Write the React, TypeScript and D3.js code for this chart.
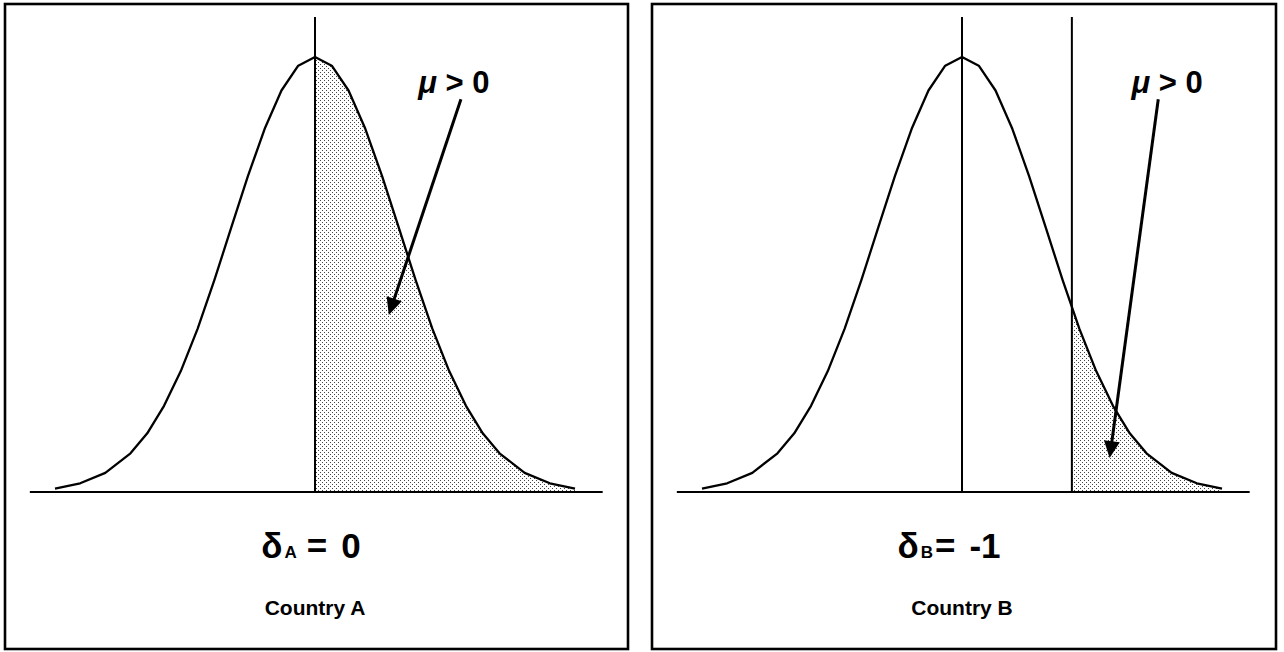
import { useRef, useEffect } from "react";
import * as d3 from "d3";

// standard normal curve (x in sigma units, height relative to peak)
const Z_POINTS = [
  -3.1, -2.8, -2.5, -2.2, -2.0, -1.8, -1.6, -1.4, -1.2, -1.0, -0.8, -0.6, -0.4, -0.2, 0,
  0.2, 0.4, 0.6, 0.8, 1.0, 1.2, 1.4, 1.6, 1.8, 2.0, 2.2, 2.5, 2.8, 3.1,
];
const DENSITY = [
  0.008, 0.02, 0.044, 0.089, 0.135, 0.198, 0.278, 0.375, 0.487, 0.607, 0.726, 0.835, 0.923, 0.98, 1,
  0.98, 0.923, 0.835, 0.726, 0.607, 0.487, 0.375, 0.278, 0.198, 0.135, 0.089, 0.044, 0.02, 0.008,
];

const COUNTRIES = ["Country A", "Country B"];
const DELTA_SUBS = ["A", "B"];
const DELTA_VALUES = ["0", "-1"];
const CUTOFFS = [0, 1.31];
const VERTICAL_LINES = [[0], [0, 1.31]];
// arrow (start -> tip) and "mu > 0" label, in the panel's own units
const ARROW_FROM = [[1.74, 0.903], [2.34, 0.903]];
const ARROW_TO = [[0.88, 0.407], [1.76, 0.078]];
const MU_LABEL_AT = [[1.23, 0.917], [2.02, 0.917]];
// left edge of the delta label, in sigma units
const DELTA_LABEL_AT = [-0.64, -0.77];

const W = 1284;
const H = 652;
const FONT = "'Liberation Sans', Arial, Helvetica, sans-serif";

export default function App() {
  const svgRef = useRef<SVGSVGElement | null>(null);

  useEffect(() => {
    const svg = d3.select(svgRef.current);
    svg.selectAll("*").remove();

    const defs = svg.append("defs");
    const pat = defs
      .append("pattern")
      .attr("id", "stipple")
      .attr("patternUnits", "userSpaceOnUse")
      .attr("width", 4)
      .attr("height", 4);
    pat.append("rect").attr("width", 4).attr("height", 4).attr("fill", "#fff");
    pat.append("rect").attr("x", 0).attr("y", 0).attr("width", 1).attr("height", 1).attr("fill", "#444");
    pat.append("rect").attr("x", 2).attr("y", 2).attr("width", 1).attr("height", 1).attr("fill", "#444");

    const panelX = [5, 652];
    const panelW = [623, 624];
    const top = 4;
    const panelH = 645;
    const baseY = 492;
    const peakY = 57;

    const pts: [number, number][] = Z_POINTS.map((z, i) => [z, DENSITY[i]]);

    COUNTRIES.forEach((country, p) => {
      const center = panelX[p] + 310;
      const x = d3.scaleLinear().domain([-3.1, 3.1]).range([center - 260, center + 260]);
      const y = d3.scaleLinear().domain([0, 1]).range([baseY, peakY]);
      const g = svg.append("g");

      // --- Frame ---
      g.append("rect")
        .attr("x", panelX[p])
        .attr("y", top)
        .attr("width", panelW[p])
        .attr("height", panelH)
        .attr("fill", "#fff")
        .attr("stroke", "#000")
        .attr("stroke-width", 2.6);

      // --- Shaded tail (area clipped at the cutoff) ---
      const clipId = `clip-${p}`;
      defs
        .append("clipPath")
        .attr("id", clipId)
        .append("rect")
        .attr("x", x(CUTOFFS[p]))
        .attr("y", 0)
        .attr("width", x(3.3) - x(CUTOFFS[p]))
        .attr("height", baseY);

      const area = d3
        .area<[number, number]>()
        .x((d) => x(d[0]))
        .y0(y(0))
        .y1((d) => y(d[1]));
      g.append("path")
        .attr("d", area(pts) as string)
        .attr("fill", "url(#stipple)")
        .attr("clip-path", `url(#${clipId})`);

      // --- Curve ---
      const line = d3
        .line<[number, number]>()
        .x((d) => x(d[0]))
        .y((d) => y(d[1]));
      g.append("path")
        .attr("d", line(pts) as string)
        .attr("fill", "none")
        .attr("stroke", "#000")
        .attr("stroke-width", 2.3)
        .attr("stroke-linejoin", "round");

      // --- Baseline ---
      g.append("line")
        .attr("x1", x(-3.4))
        .attr("x2", x(3.43))
        .attr("y1", baseY)
        .attr("y2", baseY)
        .attr("stroke", "#000")
        .attr("stroke-width", 2);

      // --- Vertical lines ---
      VERTICAL_LINES[p].forEach((v) => {
        g.append("line")
          .attr("x1", x(v))
          .attr("x2", x(v))
          .attr("y1", 17)
          .attr("y2", baseY)
          .attr("stroke", "#000")
          .attr("stroke-width", 2);
      });

      // --- Arrow ---
      const x0 = x(ARROW_FROM[p][0]);
      const y0 = y(ARROW_FROM[p][1]);
      const x1 = x(ARROW_TO[p][0]);
      const y1 = y(ARROW_TO[p][1]);
      const len = Math.hypot(x1 - x0, y1 - y0);
      const ux = (x1 - x0) / len;
      const uy = (y1 - y0) / len;
      const headL = 17;
      const headW = 8;
      const bx = x1 - ux * headL;
      const by = y1 - uy * headL;
      g.append("line")
        .attr("x1", x0)
        .attr("y1", y0)
        .attr("x2", bx + ux * 2)
        .attr("y2", by + uy * 2)
        .attr("stroke", "#000")
        .attr("stroke-width", 3);
      g.append("polygon")
        .attr(
          "points",
          [
            [x1, y1],
            [bx - uy * headW, by + ux * headW],
            [bx + uy * headW, by - ux * headW],
          ]
            .map((q) => q.join(","))
            .join(" ")
        )
        .attr("fill", "#000");

      // --- mu > 0 ---
      const mu = g
        .append("text")
        .attr("x", x(MU_LABEL_AT[p][0]))
        .attr("y", y(MU_LABEL_AT[p][1]))
        .attr("font-family", FONT)
        .attr("font-weight", "bold")
        .attr("font-size", "31px");
      mu.append("tspan").attr("font-style", "italic").text("μ");
      mu.append("tspan").text(" > 0");

      // --- delta label ---
      const dl = g
        .append("text")
        .attr("x", x(DELTA_LABEL_AT[p]))
        .attr("y", 558)
        .attr("font-family", FONT)
        .attr("font-weight", "bold")
        .attr("font-size", "35px");
      dl.append("tspan").text("δ");
      dl.append("tspan").attr("dx", 2).attr("font-size", "17px").text(DELTA_SUBS[p]);
      dl.append("tspan").attr("dx", p === 0 ? 10 : 2).text("=");
      dl.append("tspan").attr("dx", p === 0 ? 14 : 14).text(DELTA_VALUES[p]);

      // --- Country ---
      g.append("text")
        .attr("x", x(0))
        .attr("y", 615)
        .attr("text-anchor", "middle")
        .attr("font-family", FONT)
        .attr("font-weight", "bold")
        .attr("font-size", "21px")
        .text(country);
    });
  }, []);

  return (
    <div style={{ position: "absolute", left: 0, top: 0, width: W, height: H, background: "#fff" }}>
      <svg ref={svgRef} width={W} height={H} style={{ display: "block" }} />
    </div>
  );
}
